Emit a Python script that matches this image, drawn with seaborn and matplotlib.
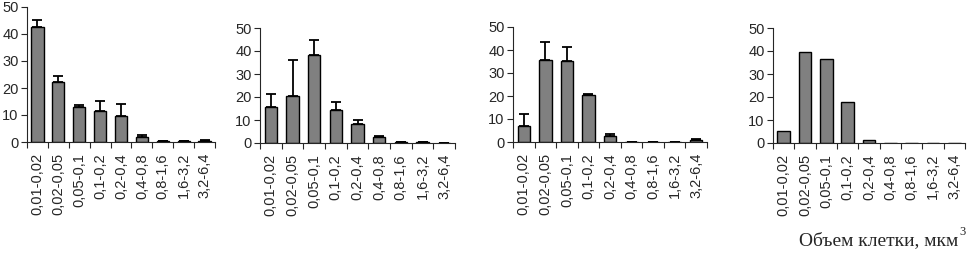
import numpy as np
import pandas as pd
import matplotlib
matplotlib.use('Agg')
import matplotlib.pyplot as plt
import seaborn as sns

sns.set_style('ticks')
plt.rcParams['font.family'] = ['Liberation Sans', 'DejaVu Sans']

categories = ['0,01-0,02', '0,02-0,05', '0,05-0,1', '0,1-0,2', '0,2-0,4',
              '0,4-0,8', '0,8-1,6', '1,6-3,2', '3,2-6,4']

# percentages per size class, and upper error (absolute top of whisker)
vals1 = [42.7, 22.4, 12.9, 11.6, 9.8, 1.9, 0.2, 0.2, 0.5]
top1 = [45.2, 24.5, 13.8, 15.3, 14.2, 2.7, 0.2, 0.2, 0.7]
vals2 = [15.6, 20.3, 38.3, 14.3, 8.4, 2.6, 0.5, 0.5, 0.0]
top2 = [21.4, 36.2, 44.6, 18.0, 10.1, 2.9, 0.5, 0.5, 0.0]
vals3 = [6.8, 35.8, 35.4, 20.5, 2.7, 0.1, 0.1, 0.1, 1.0]
top3 = [12.0, 43.5, 41.3, 20.9, 3.6, 0.1, 0.1, 0.1, 1.2]
vals4 = [5.4, 39.4, 36.5, 18.0, 1.3, 0.0, 0.0, 0.0, 0.0]
top4 = None

panels = [(vals1, top1, (27, 215, 7, 142)),
          (vals2, top2, (260, 455, 28, 143)),
          (vals3, top3, (513, 707, 27, 142)),
          (vals4, top4, (773, 965, 28, 143))]

W, H = 969, 258
fig = plt.figure(figsize=(W / 100, H / 100), dpi=100)

for vals, tops, (l, r, t, b) in panels:
    ax = fig.add_axes([l / W, (H - b) / H, (r - l) / W, (b - t) / H])
    df = pd.DataFrame({'cls': categories, 'pct': vals})
    sns.barplot(data=df, x='cls', y='pct', color='#808080', saturation=1,
                edgecolor='black', linewidth=1, width=0.58, ax=ax)
    if tops is not None:
        up = np.array(tops) - np.array(vals)
        ax.errorbar(np.arange(len(vals)), vals, yerr=[np.zeros(len(vals)), up],
                    fmt='none', ecolor='black', elinewidth=1.3, capsize=3.5,
                    capthick=1.3)
    ax.set_xlim(-0.5, len(categories) - 0.5)
    ax.set_ylim(0, 50)
    ax.set_yticks([0, 10, 20, 30, 40, 50])
    ax.set_xlabel('')
    ax.set_ylabel('')
    ax.set_xticks(np.arange(len(categories)))
    ax.set_xticklabels(categories, rotation=90)
    ax.set_xticks(np.arange(-0.5, len(categories)), minor=True)
    ax.tick_params(axis='x', which='major', length=0, labelsize=10.5, pad=8)
    ax.tick_params(axis='x', which='minor', length=4, width=0.8, direction='out')
    ax.tick_params(axis='y', length=4, width=0.8, labelsize=10.5, pad=2)
    sns.despine(ax=ax)
    for s in ('left', 'bottom'):
        ax.spines[s].set_linewidth(0.8)

serif = ['Liberation Serif', 'DejaVu Serif']
fig.text(958 / W, 1 - 241 / H, 'Объем клетки, мкм', ha='right', va='center',
         fontsize=14, family=serif)
fig.text(959 / W, 1 - 232 / H, '3', ha='left', va='center',
         fontsize=9, family=serif)

fig.savefig('out.png', dpi=100)
